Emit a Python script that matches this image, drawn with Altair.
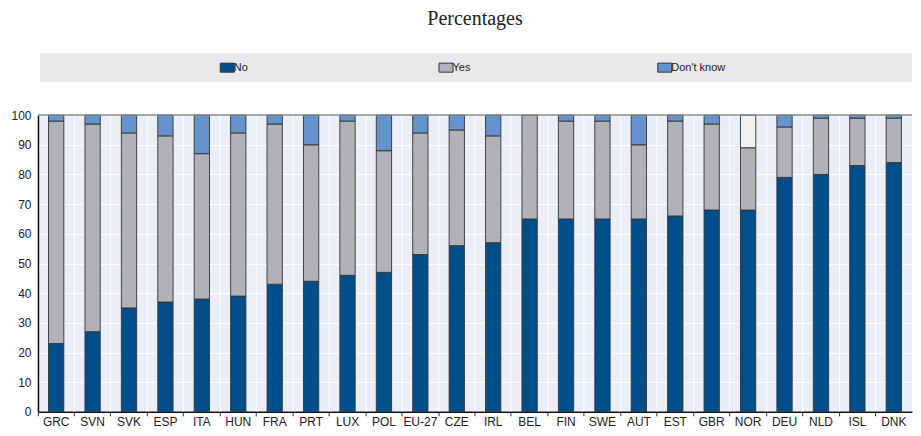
import altair as alt
import pandas as pd

countries = ["GRC", "SVN", "SVK", "ESP", "ITA", "HUN", "FRA", "PRT", "LUX", "POL", "EU-27", "CZE",
             "IRL", "BEL", "FIN", "SWE", "AUT", "EST", "GBR", "NOR", "DEU", "NLD", "ISL", "DNK"]
no_vals = [23, 27, 35, 37, 38, 39, 43, 44, 46, 47, 53, 56, 57, 65, 65, 65, 65, 66, 68, 68, 79, 80, 83, 84]
yes_vals = [75, 70, 59, 56, 49, 55, 54, 46, 52, 41, 41, 39, 36, 35, 33, 33, 25, 32, 29, 21, 17, 19, 16, 15]
dk_vals = [2, 3, 6, 7, 13, 6, 3, 10, 2, 12, 6, 5, 7, 0, 2, 2, 10, 2, 3, 0, 4, 1, 1, 1]
na_vals = [0] * 19 + [11] + [0] * 4
y_ticks = [0, 10, 20, 30, 40, 50, 60, 70, 80, 90, 100]

series = ["No", "Yes", "Don't know", "n.a."]
colors = ["#004f8a", "#b1b2b6", "#6593cd", "#f1f1f1"]

rows = []
for i, c in enumerate(countries):
    for k, (name, vals) in enumerate(zip(series, [no_vals, yes_vals, dk_vals, na_vals])):
        if vals[i] > 0:
            rows.append({"country": c, "response": name, "value": vals[i], "ord": k})
df = pd.DataFrame(rows)

W, H = 875, 297

y_axis = alt.Axis(values=y_ticks, tickCount=11, grid=True, gridColor="white", gridWidth=1,
                  ticks=False, domainColor="#111111", domainWidth=1.5, labelOverlap=False,
                  labelFont="Liberation Sans", labelFontSize=12, labelColor="#222222",
                  labelPadding=7, minExtent=30, maxExtent=30)
y_scale = alt.Scale(domain=[0, 100], nice=False)

bars = alt.Chart(df).mark_bar(width={"band": 0.42}, stroke="#333333", strokeWidth=0.9).encode(
    x=alt.X("country:N", sort=countries, title=None,
            scale=alt.Scale(paddingInner=0, paddingOuter=0),
            axis=alt.Axis(bandPosition=0, labelAngle=0, grid=True,
                          gridColor="white", gridWidth=1, ticks=True, tickSize=4,
                          tickColor="#333333", domainColor="#111111", domainWidth=1.5,
                          labelFont="Liberation Sans", labelFontSize=12, labelColor="#222222",
                          labelPadding=1)),
    y=alt.Y("value:Q", stack="zero", title=None, scale=y_scale, axis=y_axis),
    color=alt.Color("response:N", scale=alt.Scale(domain=series, range=colors),
                    legend=alt.Legend(values=["No", "Yes", "Don't know"], title=None,
                                      orient="none", legendX=184, legendY=-53,
                                      direction="horizontal", columns=3, gridAlign="all",
                                      columnPadding=148,
                                      symbolType="M-1.4,-0.9H1.4V0.9H-1.4Z", symbolSize=100,
                                      symbolStrokeColor="#333333", symbolStrokeWidth=1,
                                      symbolOffset=0, labelOffset=1,
                                      labelFont="Liberation Sans", labelFontSize=11,
                                      labelColor="#222222")),
    order=alt.Order("ord:Q", sort="ascending"),
)

band = alt.Chart(pd.DataFrame({"a": [0]})).mark_rect(color="#e9e9eb").encode(
    x=alt.value(2), x2=alt.value(W), y=alt.value(-62), y2=alt.value(-33)
)

top_line = alt.Chart(pd.DataFrame({"v": [100]})).mark_rule(color="#888888", strokeWidth=1.5).encode(
    y=alt.Y("v:Q", title=None, scale=y_scale, axis=y_axis)
)

chart = alt.layer(band, bars, top_line).properties(
    width=W, height=H,
    padding={"left": 0, "top": 1, "right": 0, "bottom": 0},
    title=alt.TitleParams("Percentages", font="Liberation Serif", fontSize=20, fontWeight="normal",
                          color="#222222", anchor="middle", offset=24),
).configure_view(fill="#e9eef7", stroke=None)

chart.save("out.html", embed_options={"renderer": "svg", "actions": False})
